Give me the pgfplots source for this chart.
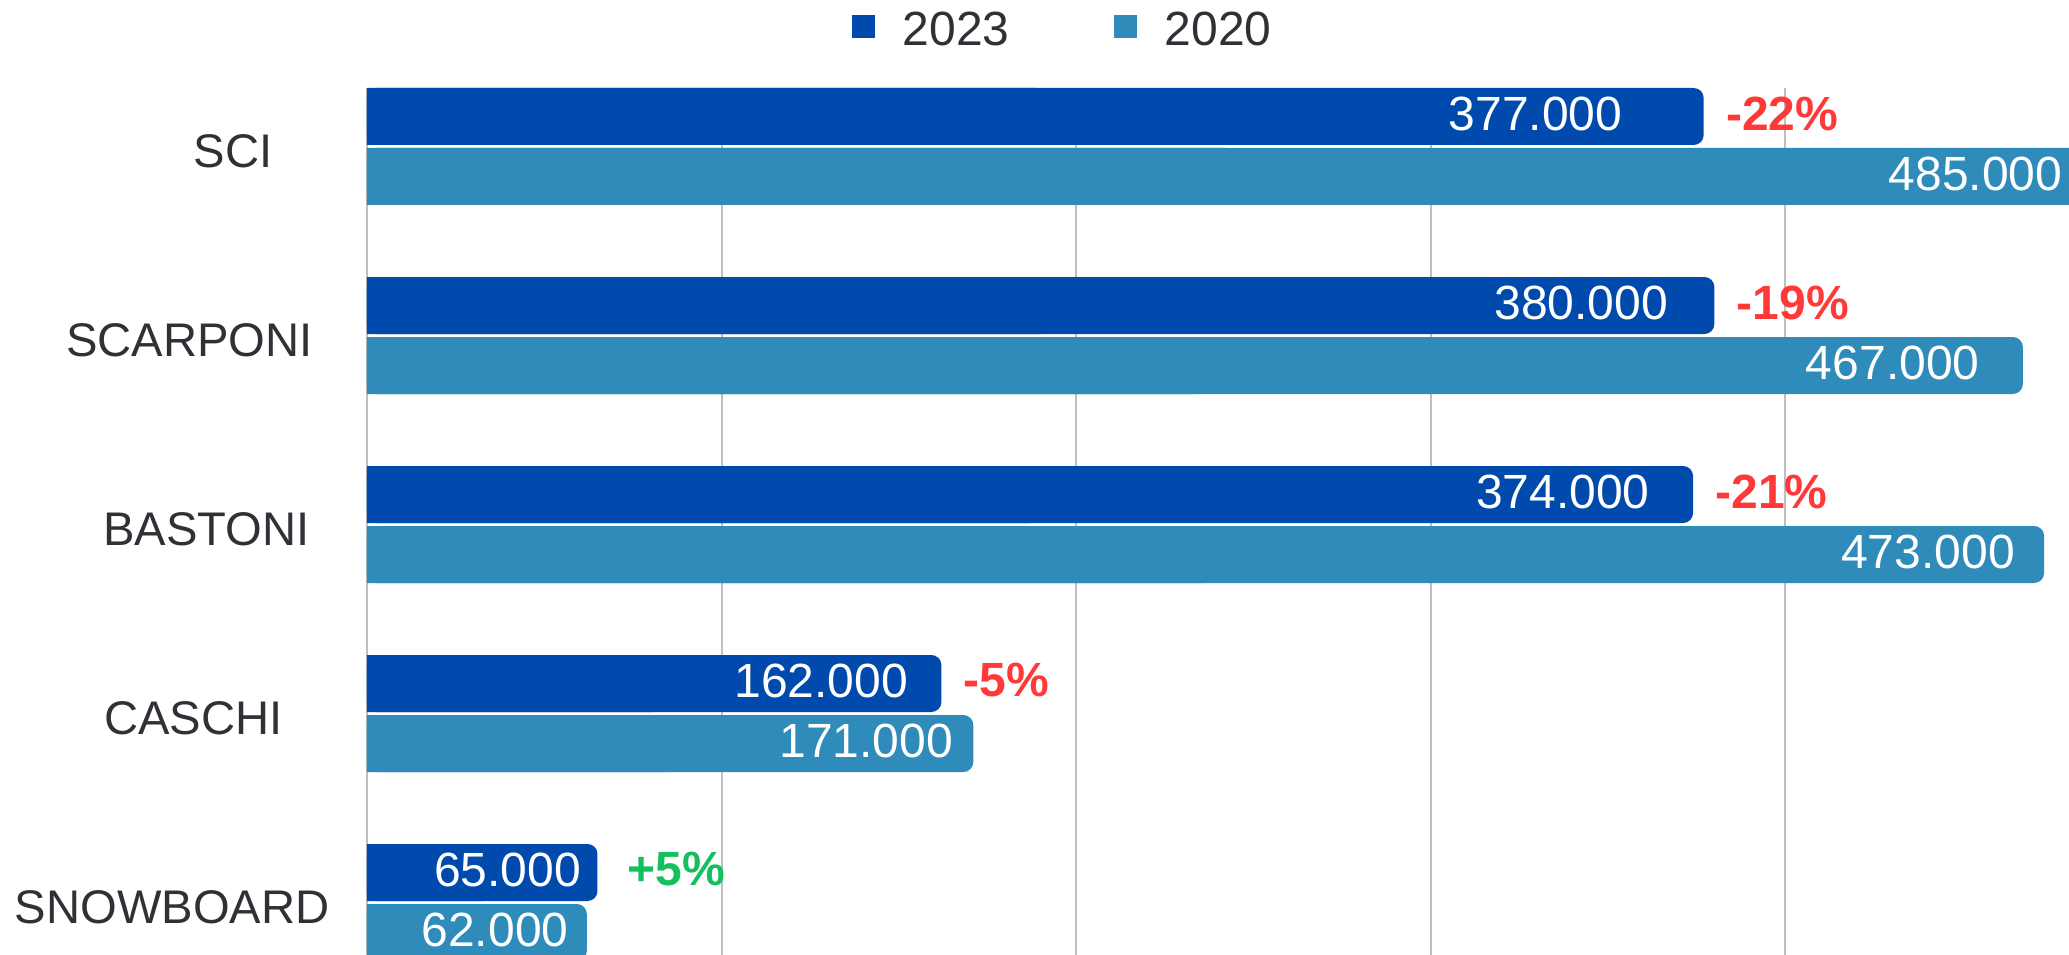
\documentclass[border=0pt]{standalone}
\usepackage{fontspec}
\setmainfont{Liberation Sans}
\usepackage{pgfplots}
\pgfplotsset{compat=1.18}
\usepackage{pgfplotstable}
\definecolor{cA}{HTML}{004AAD}
\definecolor{cB}{HTML}{2E8BBA}
\definecolor{txt}{HTML}{2E3236}
\definecolor{neg}{HTML}{FF3838}
\definecolor{pos}{HTML}{14BF5E}
\definecolor{gridc}{HTML}{BFBFBF}
\newcommand{\fs}{\fontsize{24bp}{28bp}\selectfont}
\newcommand{\fc}{\fontsize{23.6bp}{28bp}\selectfont}
\pgfplotstableread{
y v off
116.5 377000 40.5
305.5 380000 23
494.5 374000 21.5
683.5 162000 16.5
872.5 65000 8
}\dataA
\pgfplotstableread{
y v off
176.5 485000 12
365.5 467000 21.5
554.5 473000 14.5
743.5 171000 10
932.5 62000 9
}\dataB
\begin{document}
\begin{tikzpicture}
\begin{axis}[name=ax, width=868.7bp, height=438.5bp, scale only axis,
 xmin=0, xmax=490000, ymin=88, ymax=965, y dir=reverse,
 axis line style={draw=none},
 xtick={0,100000,200000,300000,400000}, xticklabels={}, xmajorgrids,
 grid style={gridc, line width=1bp},
 ytick={146.5,335.5,524.5,713.5,902.5},
 yticklabels={SCI\hspace*{28.5bp}, SCARPONI\hspace*{8.5bp}, BASTONI\hspace*{10bp}, CASCHI\hspace*{23.5bp}, SNOWBOARD},
 major tick length=0pt,
 yticklabel style={anchor=east, inner sep=0pt, xshift=-18.5bp, yshift=-2.5bp, font=\fc, text=txt},
 legend image code/.code={\fill[#1, sharp corners] (0bp,-5.75bp) rectangle (11.5bp,5.75bp);},
 legend style={draw=none, fill=none, at={(0.2791,1.0661)}, anchor=west, legend columns=2,
   inner sep=0pt, outer sep=0pt, font=\fs, text=txt,
   /tikz/every odd column/.append style={column sep=14bp},
   /tikz/every even column/.append style={column sep=52bp},
   nodes={inner sep=0pt, yshift=-2bp}},
 ]
\addplot[xbar, bar width=28.5bp, bar shift=0pt, fill=cA, draw=none, forget plot] table[x expr=\thisrow{v}/2, y=y]{\dataA};
\addplot[xbar, bar width=28.5bp, bar shift=0pt, fill=cB, draw=none, forget plot] table[x expr=\thisrow{v}/2, y=y]{\dataB};
\addplot[xbar, bar width=28.5bp, bar shift=0pt, fill=cA, draw=none, rounded corners=5bp,
  point meta=x,
  nodes near coords={\pgfmathprintnumber[fixed, precision=0, 1000 sep={.}, assume math mode=true]{\pgfplotspointmeta}},
  visualization depends on={\thisrow{off}*1 \as \myoff},
  every node near coord/.append style={anchor=east, inner sep=0pt, xshift={-\myoff*1bp}, yshift=1.5bp, font=\fs, text=white}]
  table[x=v, y=y]{\dataA};
\addlegendentry{2023}
\addplot[xbar, bar width=28.5bp, bar shift=0pt, fill=cB, draw=none, rounded corners=5bp,
  point meta=x,
  nodes near coords={\pgfmathprintnumber[fixed, precision=0, 1000 sep={.}, assume math mode=true]{\pgfplotspointmeta}},
  visualization depends on={\thisrow{off}*1 \as \myoff},
  every node near coord/.append style={anchor=east, inner sep=0pt, xshift={-\myoff*1bp}, yshift=1.5bp, font=\fs, text=white}]
  table[x=v, y=y]{\dataB};
\addlegendentry{2020}
\addplot[draw=none, mark=none, forget plot, nodes near coords, point meta=explicit symbolic,
  every node near coord/.append style={anchor=west, inner sep=0pt, xshift=11bp, yshift=1.5bp, font=\fs\bfseries, text=neg}]
  coordinates {(377000,116.5) [-22\%] (380000,305.5) [-19\%] (374000,494.5) [-21\%] (162000,683.5) [-5\%]};
\addplot[draw=none, mark=none, forget plot, nodes near coords, point meta=explicit symbolic,
  every node near coord/.append style={anchor=west, inner sep=0pt, xshift=15bp, yshift=1.5bp, font=\fs\bfseries, text=pos}]
  coordinates {(65000,872.5) [+5\%]};
\end{axis}
\pgfresetboundingbox
\path ([shift={(-183.5bp,5bp)}]ax.south west) rectangle ([shift={(851bp,44bp)}]ax.north west);
\end{tikzpicture}
\end{document}
